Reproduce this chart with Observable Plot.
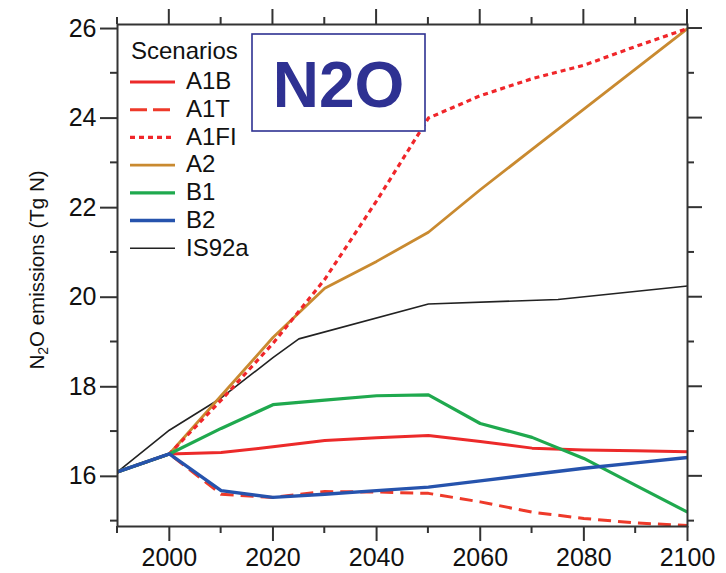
<!DOCTYPE html>
<html><head><meta charset="utf-8">
<script src="https://cdn.jsdelivr.net/npm/d3@7"></script>
<script src="https://cdn.jsdelivr.net/npm/@observablehq/plot@0.6"></script>
<style>body{margin:0;background:#fff}</style>
</head><body><div id="chart"></div>
<script>
// ---- data ----
const sresYears = [1990,2000,2010,2020,2030,2040,2050,2060,2070,2080,2090,2100];
const A1B  = [16.1,16.5,16.53,16.66,16.8,16.86,16.91,16.78,16.63,16.59,16.57,16.55];
const A1T  = [16.1,16.5,15.6,15.53,15.66,15.65,15.62,15.43,15.2,15.06,14.96,14.9];
const A1FI = [16.1,16.5,17.7,18.97,20.4,22.15,24.0,24.5,24.88,25.18,25.6,26.0];
const A2   = [16.1,16.5,17.8,19.1,20.2,20.8,21.45,22.4,23.3,24.2,25.1,26.0];
const B1   = [16.1,16.5,17.07,17.6,17.7,17.8,17.82,17.18,16.87,16.4,15.8,15.2];
const B2   = [16.1,16.5,15.68,15.53,15.6,15.68,15.76,15.9,16.04,16.18,16.3,16.42];
const is92aYears = [1990,2000,2010,2020,2025,2050,2075,2100];
const IS92a = [16.1,17.03,17.75,18.65,19.07,19.85,19.95,20.25];

const scenarioNames = ["A1B","A1T","A1FI","A2","B1","B2","IS92a"];
const xMajorTicks = [2000,2020,2040,2060,2080,2100];
const xMinorTicks = [1990,2010,2030,2050,2070,2090];
const yMajorTicks = [16,18,20,22,24,26];
const yMinorTicks = [15,17,19,21,23,25];
const legendTitle = "Scenarios";
const yTitle = ["N","2","O emissions (Tg N)"];
const badgeText = "N2O";

// ---- styles ----
const styles = {
  A1B:  {stroke:"#ec2a2a", strokeWidth:3, dash:null},
  A1T:  {stroke:"#ee3a2a", strokeWidth:3, dash:"13,7"},
  A1FI: {stroke:"#f0262a", strokeWidth:3.2, dash:"5,4"},
  A2:   {stroke:"#c98a30", strokeWidth:2.8, dash:null},
  B1:   {stroke:"#1fa94e", strokeWidth:3.2, dash:null},
  B2:   {stroke:"#2653ad", strokeWidth:3.4, dash:null},
  IS92a:{stroke:"#222222", strokeWidth:1.6, dash:null}
};

const seriesValues = {A1B, A1T, A1FI, A2, B1, B2, IS92a};
const seriesYears = n => n === "IS92a" ? is92aYears : sresYears;
const tidy = n => seriesYears(n).map((yr,i) => ({year: yr, value: seriesValues[n][i], scenario: n}));

const drawOrder = ["IS92a","A2","A1FI","A1B","A1T","B1","B2"];
const lineMarks = drawOrder.map(n => Plot.line(tidy(n), {
  x:"year", y:"value", stroke: styles[n].stroke, strokeWidth: styles[n].strokeWidth,
  strokeDasharray: styles[n].dash ?? undefined, strokeLinejoin:"round", strokeLinecap:"butt"
}));

const font = "'Liberation Sans', Arial, Helvetica, sans-serif";
const axisCol = "#333";
const chart = Plot.plot({
  width: 726, height: 573,
  marginLeft: 117, marginRight: 39, marginTop: 24, marginBottom: 47,
  x: {domain: [1990, 2100]},
  y: {domain: [14.88, 26.09]},
  style: {fontFamily: font, color: "#111", background: "white", overflow: "visible"},
  marks: [
    ...lineMarks,
    Plot.frame({stroke: axisCol, strokeWidth: 2}),
    Plot.axisX(xMajorTicks, {anchor:"bottom", tickSize:15, tickPadding:7, fontSize:25, strokeWidth:2, stroke:axisCol, label:null, tickFormat:d=>String(d)}),
    Plot.axisY(yMajorTicks, {anchor:"left", tickSize:17, tickPadding:4, fontSize:25, strokeWidth:2, stroke:axisCol, label:null, tickFormat:d=>String(d)})
  ]
});
document.getElementById("chart").appendChild(chart);

const svg = d3.select(chart);
const sx = chart.scale("x"), sy = chart.scale("y");
const xL = sx.apply(1990), xR = sx.apply(2100), yTop = sy.apply(26.09), yBot = sy.apply(14.88);

// extra ticks (outward on all sides) through the plot's own scales
const tk = svg.append("g");
function tick(x1, y1, x2, y2) {
  tk.append("line").attr("x1", x1).attr("y1", y1).attr("x2", x2).attr("y2", y2)
    .attr("stroke", axisCol).attr("stroke-width", 2);
}
xMinorTicks.forEach(v => tick(sx.apply(v), yBot, sx.apply(v), yBot + 7));
xMajorTicks.forEach(v => tick(sx.apply(v), yTop, sx.apply(v), yTop - 15));
xMinorTicks.forEach(v => tick(sx.apply(v), yTop, sx.apply(v), yTop - 7));
yMinorTicks.forEach(v => tick(xL, sy.apply(v), xL - 7, sy.apply(v)));
yMajorTicks.forEach(v => tick(xR, sy.apply(v), xR + 15, sy.apply(v)));
yMinorTicks.forEach(v => tick(xR, sy.apply(v), xR + 7, sy.apply(v)));

// y title
const yTitleEl = svg.append("text")
  .attr("transform","translate(39,270) rotate(-90)")
  .attr("text-anchor","middle").attr("dominant-baseline","middle")
  .attr("font-family",font).attr("font-size",20.5).attr("fill","#111");
yTitleEl.append("tspan").text(yTitle[0]);
yTitleEl.append("tspan").attr("font-size",14).attr("dy",5).text(yTitle[1]);
yTitleEl.append("tspan").attr("dy",-5).text(yTitle[2]);

// legend
const lg = svg.append("g").attr("font-family",font).attr("fill","#111").attr("text-anchor","start");
lg.append("text").attr("x",131).attr("y",53).attr("dominant-baseline","middle")
  .attr("font-size",24).text(legendTitle);
scenarioNames.forEach((n,i) => {
  const y = 82 + i*27.7;
  lg.append("line").attr("x1",130).attr("x2",175).attr("y1",y).attr("y2",y)
    .attr("stroke",styles[n].stroke).attr("stroke-width",styles[n].strokeWidth)
    .attr("stroke-dasharray", n==="A1T" ? "17,6" : (styles[n].dash || null));
  lg.append("text").attr("x",186).attr("y",y+1).attr("dominant-baseline","middle")
    .attr("font-size",24).text(n);
});

// badge
const bd = svg.append("g");
bd.append("rect").attr("x",252).attr("y",34).attr("width",173).attr("height",97)
  .attr("fill","white").attr("stroke","#2e3192").attr("stroke-width",1.6);
bd.append("text").attr("x",338.5).attr("y",107).attr("text-anchor","middle")
  .attr("font-family",font).attr("font-weight","bold").attr("font-size",64)
  .attr("fill","#2e3192").text(badgeText);
</script>
</body></html>
